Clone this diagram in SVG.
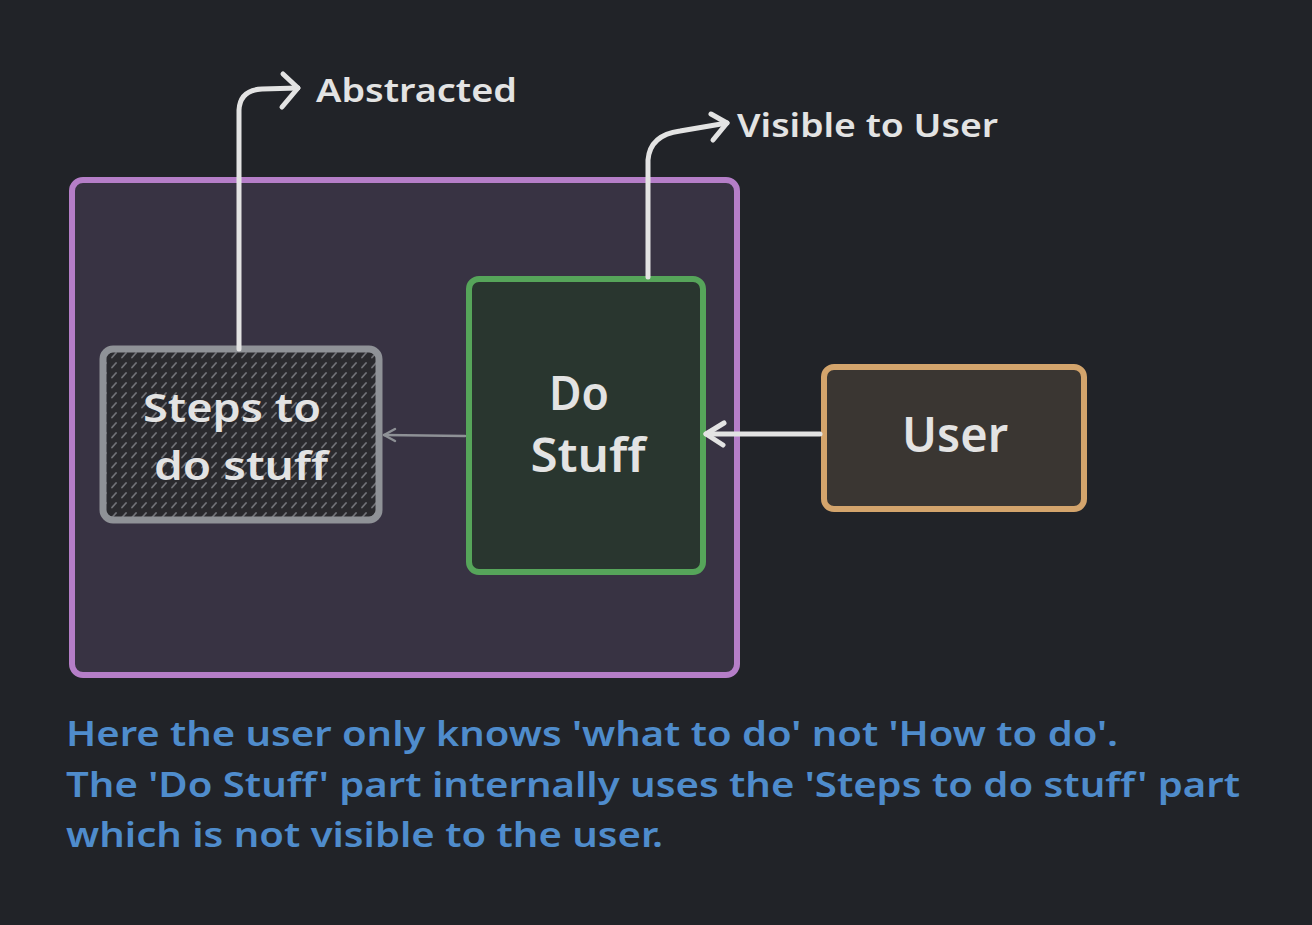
<svg xmlns="http://www.w3.org/2000/svg" width="1312" height="925" viewBox="0 0 1312 925">
<defs>
<pattern id="hatch" width="10" height="10" patternUnits="userSpaceOnUse">
<rect width="10" height="10" fill="#2a2a2e"/>
<line x1="2" y1="7.5" x2="6" y2="3" stroke="#707177" stroke-width="1.8" stroke-linecap="round"/>
</pattern>
<style>
.lbl{font-family:"Noto Sans","Liberation Sans",sans-serif;fill:#e3e3e3;font-weight:600}
.note{font-family:"Noto Sans","Liberation Sans",sans-serif;fill:#4f8ccc;font-size:34px;font-weight:600}
.arr{fill:none;stroke:#e3e3e3;stroke-width:5;stroke-linecap:round;stroke-linejoin:round}
.thin{fill:none;stroke:#8e9196;stroke-width:2.5;stroke-linecap:round;stroke-linejoin:round}
</style>
</defs>
<rect width="1312" height="925" fill="#212328"/>

<g id="container">
<rect x="72" y="180" width="665" height="495" rx="11" fill="#383343" stroke="#b57ec8" stroke-width="6"/>
</g>

<g id="steps">
<rect x="103" y="349" width="276" height="171" rx="10" fill="url(#hatch)" stroke="#8f9297" stroke-width="7"/>
<text class="lbl" font-size="40" x="232" y="422" text-anchor="middle" textLength="178" lengthAdjust="spacingAndGlyphs">Steps to</text>
<text class="lbl" font-size="40" x="241" y="480" text-anchor="middle" textLength="174" lengthAdjust="spacingAndGlyphs">do stuff</text>
</g>

<g id="dostuff">
<rect x="469" y="279" width="234" height="293" rx="10" fill="#29362f" stroke="#56a55a" stroke-width="6"/>
<text class="lbl" font-size="46" x="579" y="410" text-anchor="middle" textLength="60" lengthAdjust="spacingAndGlyphs">Do</text>
<text class="lbl" font-size="46" x="588" y="472" text-anchor="middle" textLength="115" lengthAdjust="spacingAndGlyphs">Stuff</text>
</g>

<g id="user">
<rect x="824" y="367" width="260" height="142" rx="10" fill="#3a3632" stroke="#d3a46c" stroke-width="6"/>
<text class="lbl" font-size="48" x="955" y="452" text-anchor="middle" textLength="106" lengthAdjust="spacingAndGlyphs">User</text>
</g>

<g id="connectors">
<path class="arr" d="M239 349 L239 110 Q240 90 262 89 L298 88"/>
<path class="arr" d="M283 74 L298 88 L282 107"/>
<path class="arr" d="M648 277 L648 160 Q650 135 680 131 L727 123"/>
<path class="arr" d="M711 114 L727 123 L713 140"/>
<path class="arr" d="M820 434 L706 434"/>
<path class="arr" d="M724 423 L706 434 L723 445"/>
<path class="thin" d="M465 436 L384 435"/>
<path class="thin" d="M395 429 L384 435 L395 441"/>
</g>

<g id="labels">
<text class="lbl" font-size="32" x="316" y="102" textLength="201" lengthAdjust="spacingAndGlyphs">Abstracted</text>
<text class="lbl" font-size="32" x="737" y="137" textLength="261" lengthAdjust="spacingAndGlyphs">Visible to User</text>
</g>

<g id="note">
<text class="note" x="66" y="746" textLength="1052" lengthAdjust="spacingAndGlyphs">Here the user only knows 'what to do' not 'How to do'.</text>
<text class="note" x="66" y="797" textLength="1174" lengthAdjust="spacingAndGlyphs">The 'Do Stuff' part internally uses the 'Steps to do stuff' part</text>
<text class="note" x="66" y="847" textLength="597" lengthAdjust="spacingAndGlyphs">which is not visible to the user.</text>
</g>
</svg>
